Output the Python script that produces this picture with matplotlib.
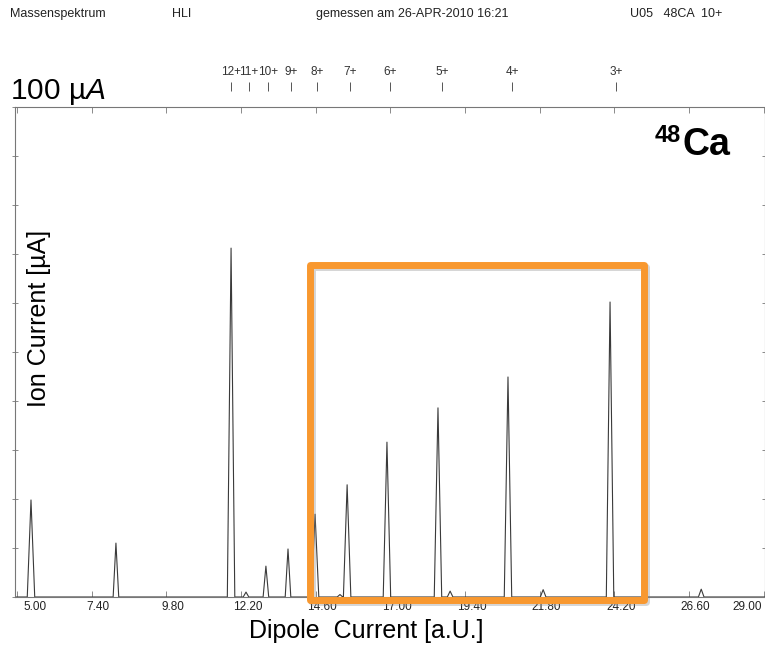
import numpy as np
import matplotlib
matplotlib.use('Agg')
import matplotlib.pyplot as plt
import matplotlib.transforms as mtransforms
import matplotlib.patheffects as pe
from matplotlib.patches import Rectangle

plt.rcParams['font.family'] = ['Liberation Sans', 'DejaVu Sans']
plt.rcParams['mathtext.fontset'] = 'custom'
plt.rcParams['mathtext.rm'] = 'Liberation Sans'
plt.rcParams['mathtext.it'] = 'Liberation Sans:italic'

# Spektrum: Peakpositionen (Dipolstrom) und Hoehen (Ionenstrom in uA)
peak_pos = [5.45, 8.18, 11.88, 13.00, 13.71, 14.58, 15.61, 16.89, 18.53, 20.78, 24.06]
peak_height = [19.8, 11.0, 71.2, 6.3, 9.8, 16.9, 22.9, 31.6, 38.6, 44.9, 60.2]

# kleine Nebenpeaks auf der Grundlinie
bump_pos = [12.36, 15.38, 18.92, 21.91, 26.99]
bump_height = [1.0, 0.5, 1.2, 1.5, 1.6]

# berechnete Lagen der Ladungszustaende
charge_pos = [11.88, 12.46, 13.07, 13.81, 14.64, 15.70, 16.99, 18.66, 20.91, 24.25]
charge_lbl = ['12+', '11+', '10+', '9+', '8+', '7+', '6+', '5+', '4+', '3+']

xticks = [5.00, 7.40, 9.80, 12.20, 14.60, 17.00, 19.40, 21.80, 24.20, 26.60, 29.00]

# markierter Bereich (Box)
box_x = [14.42, 25.14]
box_y = [-0.6, 67.8]

# Linienzug aus Spitzen zusammensetzen
pts = [(4.94, 0.0), (29.1, 0.0)]
for c, h in zip(peak_pos, peak_height):
    w = 0.09 if h < 15 else 0.12
    pts += [(c - w, 0.0), (c, h), (c + w, 0.0)]
for c, h in zip(bump_pos, bump_height):
    pts += [(c - 0.09, 0.0), (c, h), (c + 0.09, 0.0)]
pts.sort()
xs = np.array([p[0] for p in pts])
ys = np.array([p[1] for p in pts])

fig = plt.figure(figsize=(7.65, 6.47), dpi=100)
ax = fig.add_axes([15/765, 50/647, 750/765, 490/647])
ax.plot(xs, ys, color='#3a3a3a', linewidth=0.8)

ax.set_xlim(4.936, 29.04)
ax.set_ylim(0, 100)
ax.set_xticks(xticks)
ax.set_xticklabels(['%.2f' % v for v in xticks])
ax.set_yticks(np.arange(0, 101, 10))
ax.set_yticklabels([])
ax.tick_params(axis='x', direction='in', length=4, width=0.6, color='#777777',
               labelsize=8.5, pad=3, top=True, labelcolor='#222222')
ax.tick_params(axis='y', direction='inout', length=5, width=0.6, color='#777777',
               right=True)
for s in ax.spines.values():
    s.set_color('#777777')
    s.set_linewidth(0.8)

# Beschriftungen leicht nach rechts versetzt, Rand-Labels innen
shift = mtransforms.ScaledTranslation(0.065, 0, fig.dpi_scale_trans)
labels = ax.get_xticklabels()
for lab in labels:
    lab.set_transform(lab.get_transform() + shift)
labels[0].set_ha('left')
labels[-1].set_ha('right')
labels[-1].set_transform(labels[-1].get_transform()
                         + mtransforms.ScaledTranslation(-0.085, 0, fig.dpi_scale_trans))

# Ladungszustaende oberhalb des Rahmens
trans = ax.get_xaxis_transform()
ax.vlines(charge_pos, 1.033, 1.051, transform=trans, color='#555555',
          linewidth=0.7, clip_on=False)
for x, t in zip(charge_pos, charge_lbl):
    ax.text(x, 1.071, t, transform=trans, ha='center', va='center',
            fontsize=8.5, color='#333333', clip_on=False)

# markierter Bereich
box = Rectangle((box_x[0], box_y[0]), box_x[1] - box_x[0], box_y[1] - box_y[0],
                fill=False, edgecolor='#F8982F', linewidth=5, joinstyle='round',
                clip_on=False, zorder=5)
box.set_path_effects([pe.SimpleLineShadow(offset=(1.5, -1.5), shadow_color='#888888',
                                          alpha=0.35), pe.Normal()])
ax.add_patch(box)

ax.text(0.032, 0.569, 'Ion Current [µA]', transform=ax.transAxes, rotation=90,
        ha='center', va='center', fontsize=18)
fig.text(366.5/765, 1 - 631/647, 'Dipole  Current [a.U.]', ha='center', va='center',
         fontsize=18)

# Kopfzeile des Ausdrucks
hdr = dict(fontsize=9, va='center', color='#222222')
fig.text(10/765, 1 - 14/647, 'Massenspektrum', **hdr)
fig.text(172/765, 1 - 14/647, 'HLI', **hdr)
fig.text(316/765, 1 - 14/647, 'gemessen am 26-APR-2010 16:21', **hdr)
fig.text(630/765, 1 - 14/647, 'U05   48CA  10+', **hdr)

fig.text(10/765, 1 - 99/647, '100 µ$A$', fontsize=21.5, va='baseline')
fig.text(682/765, 1 - 155/647, 'Ca', fontsize=27, fontweight='bold',
         ha='left', va='baseline')
fig.text(681/765, 1 - 142/647, '48', fontsize=17, fontweight='bold',
         ha='right', va='baseline')

fig.savefig('out.png', dpi=100)
